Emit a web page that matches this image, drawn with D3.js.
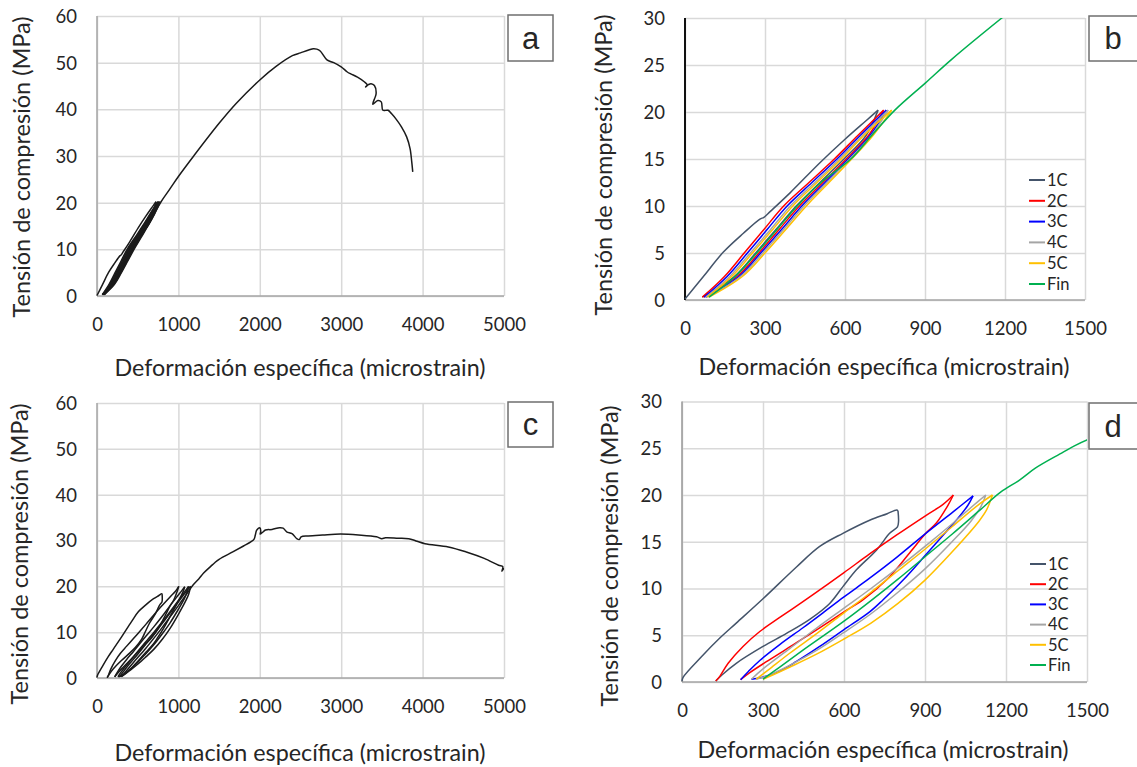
<!DOCTYPE html>
<html>
<head>
<meta charset="utf-8">
<script src="https://cdn.jsdelivr.net/npm/d3@7"></script>
<style>
body{margin:0;background:#fff;}
svg text{font-family:Lato,"Open Sans",sans-serif;fill:#262626;}
</style>
</head>
<body>
<div class="main"></div>
<script>
// tick labels
var xTicksWide=[0,1000,2000,3000,4000,5000];
var yTicksWide=[0,10,20,30,40,50,60];
var xTicksZoom=[0,300,600,900,1200,1500];
var yTicksZoom=[0,5,10,15,20,25,30];
var cycleNames=['1C','2C','3C','4C','5C','Fin'];

// specimen 1 (panels a, b) : [microstrain, MPa]
var s1_1C_up=[[0,0.1],[69,2.5],[144,5.1],[219,7.1],[281,8.6],[296,8.8],[319,9.4],[394,11.4],[506,14.6],[600,17.1],[680,19.1],[724,20.2]];
var s1_1C_down=[[724,20.2],[679,17.5],[596,15],[506,12.5],[417,10],[341,7.5],[265,5],[185,2.5],[65,0.3]];
var s1_2C_up=[[65,0.3],[148,2.5],[222,5],[296,7.5],[370,10],[465,12.5],[560,15],[648,17.5],[745,20.2]];
var s1_2C_down=[[745,20.2],[688,17.5],[605,15],[517,12.5],[429,10],[353,7.5],[277,5],[195,2.5],[72,0.3]];
var s1_3C_up=[[72,0.3],[158,2.5],[234,5],[308,7.5],[383,10],[476,12.5],[570,15],[657,17.5],[755,20.2]];
var s1_3C_down=[[755,20.2],[694,17.5],[612,15],[525,12.5],[438,10],[362,7.5],[284,5],[202,2.5],[78,0.3]];
var s1_4C_up=[[78,0.3],[168,2.5],[245,5],[321,7.5],[395,10],[487,12.5],[579,15],[665,17.5],[762,20.2]];
var s1_4C_down=[[762,20.2],[699,17.5],[618,15],[532,12.5],[446,10],[370,7.5],[292,5],[208,2.5],[84,0.3]];
var s1_5C_up=[[84,0.3],[175,2.5],[253,5],[329,7.5],[404,10],[495,12.5],[586,15],[671,17.5],[775,20.2]];
var s1_5C_down=[[775,20.2],[705,17.5],[625,15],[540,12.5],[455,10],[378,7.5],[300,5],[215,2.5],[90,0.3]];
var s1_Fin=[[90,0.3],[188,2.5],[269,5],[345,7.5],[421,10],[510,12.5],[622,15],[700,17.5],[787,20.2],[902,23.1],[1000,25.6],[1188,30],
  [1500,37.0],[1712,41.3],[2000,46.3],[2200,49.2],[2400,51.5],[2500,52.1],[2600,52.7],[2658,53.0],[2700,52.9],[2742,52.5],[2825,50.6],
  [2908,50.0],[3000,49.1],[3075,48.0],[3117,47.6],[3200,46.9],[3283,45.9],[3320,45.2],[3300,44.8],[3335,45.3],[3367,45.5],[3408,45.1],
  [3429,43.4],[3388,41.1],[3450,41.9],[3492,41.6],[3512,39.8],[3575,39.8],[3617,39.1],[3679,37.8],[3742,36.2],[3804,34.1],[3846,31.6],
  [3867,28.7],[3879,26.6]];

// specimen 2 (panels c, d)
var s2_1C_up=[[0,0.1],[4,0.5],[72,2.7],[140,4.7],[201,6.3],[300,8.9],[424,12.3],[510,14.5],[596,15.9],[695,17.3],[760,18.0],[795,18.4],[800,18.3]];
var s2_1C_down=[[800,18.3],[802,17.2],[798,16.6],[769,15.9],[720,14.1],[646,12.0],[596,10.2],[547,8.4],[473,6.7],[387,5.2],[300,3.8],[201,2.0],[150,0.8],[125,0.1]];
var s2_2C_up=[[125,0.1],[140,0.6],[171,2.0],[226,3.8],[288,5.4],[362,6.9],[448,8.6],[522,10.1],[600,11.7],[695,13.7],[794,15.7],[903,17.8],[967,19.0],[1005,20.0]];
var s2_2C_down=[[1005,20.0],[985,18.9],[942,17.0],[903,15.9],[843,13.8],[757,10.9],[671,8.8],[600,7.5],[510,5.8],[424,4.2],[325,2.4],[251,1.0],[217,0.25]];
var s2_3C_up=[[217,0.25],[245,1.1],[288,2.3],[362,4.0],[448,5.8],[522,7.4],[600,9.1],[695,11.1],[794,13.3],[903,15.9],[1004,18.2],[1078,19.9]];
var s2_3C_down=[[1078,19.9],[1059,18.9],[1016,17.3],[967,15.7],[903,13.6],[819,10.9],[745,8.8],[695,7.5],[600,5.6],[510,3.8],[424,2.2],[350,1.0],[290,0.45],[257,0.3]];
var s2_4C_up=[[257,0.3],[300,1.4],[400,3.6],[500,5.8],[600,7.9],[700,10.0],[800,12.2],[900,14.5],[1000,16.9],[1080,18.9],[1125,20.0]];
var s2_4C_down=[[1125,20.0],[1108,18.8],[1070,17.2],[1000,15.0],[900,12.1],[800,9.6],[700,7.3],[600,5.3],[500,3.4],[400,1.8],[320,0.7],[275,0.3]];
var s2_5C_up=[[275,0.3],[320,1.3],[400,3.1],[500,5.2],[600,7.4],[700,9.6],[800,11.9],[900,14.2],[1000,16.6],[1100,19.0],[1150,20.0]];
var s2_5C_down=[[1150,20.0],[1128,18.4],[1100,17.2],[1000,13.9],[900,10.9],[800,8.4],[700,6.3],[600,4.6],[500,3.0],[400,1.6],[340,0.8],[300,0.3]];
var s2_Fin=[[300,0.3],[362,1.6],[448,3.4],[600,6.5],[700,8.7],[800,11.0],[900,13.4],[1000,15.8],[1100,18.3],[1180,20.3],[1250,21.6],[1310,22.9],
  [1400,24.4],[1443,25.1],[1500,25.9],[1668,27.5],[1800,28.8],[1889,29.7],[1930,30.3],[1945,31.2],[1960,32.2],[1985,32.7],[2000,32.8],
  [2012,32.0],[2005,31.4],[2035,31.8],[2070,32.3],[2150,32.4],[2242,32.8],[2286,32.7],[2330,31.9],[2396,31.5],[2454,30.4],[2485,30.2],
  [2507,30.8],[2595,31.0],[2771,31.2],[2992,31.4],[3213,31.2],[3433,30.8],[3499,30.4],[3544,30.6],[3700,30.5],[3830,30.4],[3919,29.9],
  [4029,29.3],[4316,28.6],[4537,27.5],[4757,26.1],[4934,24.6],[4985,24.3],[4975,23.3],[5000,24.0]];

var colors=['#44546a','#ff0000','#0000ff','#a5a5a5','#ffc000','#00b050'];

// series tables built from the arrays above
var spec1=[[s1_1C_up,s1_1C_down],[s1_2C_up,s1_2C_down],[s1_3C_up,s1_3C_down],[s1_4C_up,s1_4C_down],[s1_5C_up,s1_5C_down],[s1_Fin]];
var spec2=[[s2_1C_up,s2_1C_down],[s2_2C_up,s2_2C_down],[s2_3C_up,s2_3C_down],[s2_4C_up,s2_4C_down],[s2_5C_up,s2_5C_down],[s2_Fin]];

var panels=[
  {key:'a',left:97,right:504,top:16,bottom:296,xMax:5000,yMax:60,xTicks:xTicksWide,yTicks:yTicksWide,spec:spec1,colored:false,
   axisColor:'#a6a6a6',ytx:22,yty:167,xtx:300,xty:368,box:[508,15,45,46]},
  {key:'b',left:685,right:1085,top:18,bottom:300,xMax:1500,yMax:30,xTicks:xTicksZoom,yTicks:yTicksZoom,spec:spec1,colored:true,
   axisColor:'#111',ytx:604,yty:165,xtx:884,xty:367,box:[1089,16,60,45],legX:1029,legY:180,legStep:20.8},
  {key:'c',left:97,right:504,top:403,bottom:678,xMax:5000,yMax:60,xTicks:xTicksWide,yTicks:yTicksWide,spec:spec2,colored:false,
   axisColor:'#a6a6a6',ytx:20,yty:554,xtx:300,xty:753,box:[508,402,45,45]},
  {key:'d',left:682,right:1087,top:401.5,bottom:682,xMax:1500,yMax:30,xTicks:xTicksZoom,yTicks:yTicksZoom,spec:spec2,colored:true,
   axisColor:'#999',ytx:610,yty:556,xtx:883,xty:750,box:[1089,403,60,46],legX:1030,legY:564,legStep:20.2}
];

var svgContainer=d3.select('.main').append('svg')
    .attr('width',1137)
    .attr('height',767);

panels.forEach(function(p){
  var x=d3.scaleLinear().domain([0,p.xMax]).range([p.left,p.right]);
  var y=d3.scaleLinear().domain([0,p.yMax]).range([p.bottom,p.top]);
  var g=svgContainer.append('g').attr('id','panel-'+p.key);

  // x gridlines + labels
  var xAxisGroup=g.append('g')
      .attr('transform','translate(0,'+p.bottom+')')
      .call(d3.axisBottom(x).tickValues(p.xTicks).tickSize(-(p.bottom-p.top)).tickFormat(d3.format('d')));
  xAxisGroup.select('.domain').remove();
  xAxisGroup.selectAll('line').attr('stroke','#d9d9d9').attr('stroke-width',1.5);
  xAxisGroup.selectAll('text').attr('y',29).attr('dy','0.35em')
      .style('font-size','18.5px').attr('fill','#262626');

  // y gridlines + labels
  var yAxisGroup=g.append('g')
      .attr('transform','translate('+p.left+',0)')
      .call(d3.axisLeft(y).tickValues(p.yTicks).tickSize(-(p.right-p.left)));
  yAxisGroup.select('.domain').remove();
  yAxisGroup.selectAll('line').attr('stroke','#d9d9d9').attr('stroke-width',1.5);
  yAxisGroup.selectAll('text').attr('x',-20).attr('dy','0.35em')
      .style('font-size','18.5px').attr('fill','#262626');

  // axis lines
  g.append('line').attr('x1',p.left).attr('x2',p.right).attr('y1',p.bottom).attr('y2',p.bottom)
      .attr('stroke','#a6a6a6').attr('stroke-width',1.5);
  g.append('line').attr('x1',p.left).attr('x2',p.left).attr('y1',p.top).attr('y2',p.bottom)
      .attr('stroke',p.axisColor).attr('stroke-width',p.key=='b'?2:1.5);

  // curves
  g.append('clipPath').attr('id','clip-'+p.key).append('rect')
      .attr('x',p.left-2).attr('y',p.top).attr('width',p.right-p.left+2).attr('height',p.bottom-p.top+2);
  var line=d3.line()
      .x(function(d){return x(d[0]);})
      .y(function(d){return y(d[1]);})
      .curve(d3.curveCatmullRom.alpha(0.5));
  var plot=g.append('g').attr('clip-path','url(#clip-'+p.key+')');
  p.spec.forEach(function(parts,i){
    parts.forEach(function(pts){
      plot.append('path')
          .attr('d',line(pts))
          .attr('fill','none')
          .attr('stroke',p.colored?colors[i]:'#1a1a1a')
          .attr('stroke-width',p.colored?1.5:1.5)
          .attr('stroke-linejoin','round');
    });
  });

  // axis titles
  g.append('text')
      .attr('x',p.xtx).attr('y',p.xty).attr('dy','0.35em')
      .attr('text-anchor','middle')
      .attr('textLength',371).attr('lengthAdjust','spacingAndGlyphs')
      .style('font-size','23px')
      .text('Deformación específica (microstrain)');
  g.append('text')
      .attr('transform','translate('+p.ytx+','+p.yty+') rotate(-90)')
      .attr('dy','0.35em')
      .attr('text-anchor','middle')
      .attr('textLength',301).attr('lengthAdjust','spacingAndGlyphs')
      .style('font-size','23px')
      .text('Tensión de compresión (MPa)');

  // legend
  if(p.colored){
    var legend=g.append('g').attr('class','legend').selectAll('g')
        .data(cycleNames)
        .enter().append('g')
        .attr('transform',function(d,i){return 'translate('+p.legX+','+(p.legY+i*p.legStep)+')';});
    legend.append('line').attr('x1',0).attr('x2',16).attr('y1',0).attr('y2',0)
        .attr('stroke',function(d,i){return colors[i];}).attr('stroke-width',2);
    legend.append('text').attr('x',18).attr('dy','0.35em')
        .style('font-size','16.5px')
        .text(function(d){return d;});
  }

  // panel letter box
  g.append('rect')
      .attr('x',p.box[0]).attr('y',p.box[1]).attr('width',p.box[2]).attr('height',p.box[3])
      .attr('fill','#fff').attr('stroke','#6f6f6f').attr('stroke-width',1.5);
  g.append('text')
      .attr('x',p.key=='b'||p.key=='d'?1113:p.box[0]+p.box[2]/2)
      .attr('y',p.box[1]+p.box[3]/2).attr('dy','0.35em')
      .attr('text-anchor','middle')
      .style('font-family','"Liberation Sans",Arial,sans-serif')
      .style('font-size','31px').attr('fill','#000')
      .text(p.key);
});
</script>
</body>
</html>
